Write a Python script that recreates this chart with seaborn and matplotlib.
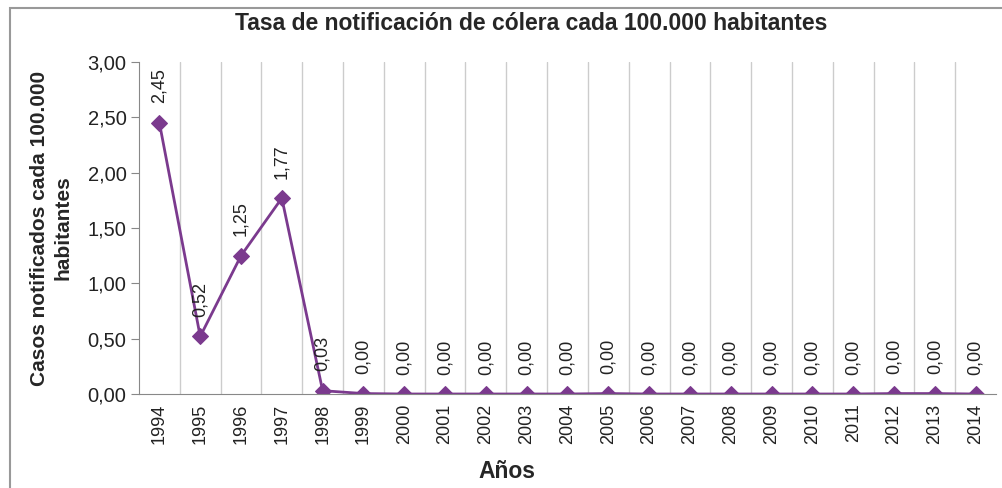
import numpy as np
import pandas as pd
import seaborn as sns
import matplotlib.pyplot as plt
from matplotlib.patches import Rectangle

# Tasa de notificación de cólera por año
years = ['1994', '1995', '1996', '1997', '1998', '1999', '2000', '2001', '2002',
         '2003', '2004', '2005', '2006', '2007', '2008', '2009', '2010', '2011',
         '2012', '2013', '2014']
rates = [2.45, 0.52, 1.25, 1.77, 0.03, 0.004, 0.0, 0.0, 0.0,
         0.0, 0.0, 0.004, 0.0, 0.0, 0.0, 0.0, 0.0, 0.0,
         0.004, 0.004, 0.0]

df = pd.DataFrame({'pos': np.arange(len(years)), 'rate': rates})

sns.set_style('white')
plt.rcParams['font.family'] = ['Liberation Sans', 'DejaVu Sans']

purple = '#7B3A8E'
grey = '#888888'

fig = plt.figure(figsize=(10.03, 4.88), dpi=100)
ax = fig.add_axes([139 / 1003, 1 - 394 / 488, 857 / 1003, 332 / 488])

sns.lineplot(data=df, x='pos', y='rate', color=purple, marker='D',
             markersize=8, markeredgecolor=purple, linewidth=2, ax=ax)

# data labels, rotated like Excel
for p, v in zip(df['pos'], df['rate']):
    ax.annotate(f'{v:.2f}'.replace('.', ','), (p, v), xytext=(0, 14),
                textcoords='offset points', rotation=90, ha='center',
                va='bottom', fontsize=13, color='#222222')

ax.set_xlim(-0.5, len(years) - 0.5)
ax.set_ylim(0, 3)
yt = np.arange(0, 3.01, 0.5)
ax.set_yticks(yt)
ax.set_yticklabels([f'{t:.2f}'.replace('.', ',') for t in yt], fontsize=14.5,
                   color='#222222')

ax.set_xticks(df['pos'])
ax.set_xticklabels(years, rotation=90, fontsize=13, color='#222222')
ax.set_xticks(np.arange(0.5, len(years) - 0.5, 1), minor=True)
ax.tick_params(axis='x', which='major', length=0, pad=7)
ax.tick_params(axis='x', which='minor', length=6, color=grey)
ax.tick_params(axis='y', length=6, color=grey, left=True, pad=3)
ax.grid(False)
ax.xaxis.grid(True, which='minor', color='#cccccc', linewidth=1)

for s in ['top', 'right']:
    ax.spines[s].set_visible(False)
for s in ['left', 'bottom']:
    ax.spines[s].set_color(grey)

ax.set_xlabel('Años', fontsize=16.5, fontweight='bold')
ax.xaxis.set_label_coords((507 - 139) / 857, (394 - 460) / 332)
ax.set_ylabel('Casos notificados cada 100.000\nhabitantes', fontsize=15,
              fontweight='bold', linespacing=1.35)
ax.yaxis.set_label_coords((73 - 139) / 857, 0.5)
fig.text(531 / 1003, 1 - 23 / 488, 'Tasa de notificación de cólera cada 100.000 habitantes',
         ha='center', va='center', fontsize=16.5, fontweight='bold')

# chart frame
fig.patches.append(Rectangle((10 / 1003, -0.1), 1.2, 1 - 8 / 488 + 0.1,
                             transform=fig.transFigure, fill=False,
                             edgecolor='#999999', linewidth=1.5))

fig.savefig('out.png', dpi=100, facecolor='white')
